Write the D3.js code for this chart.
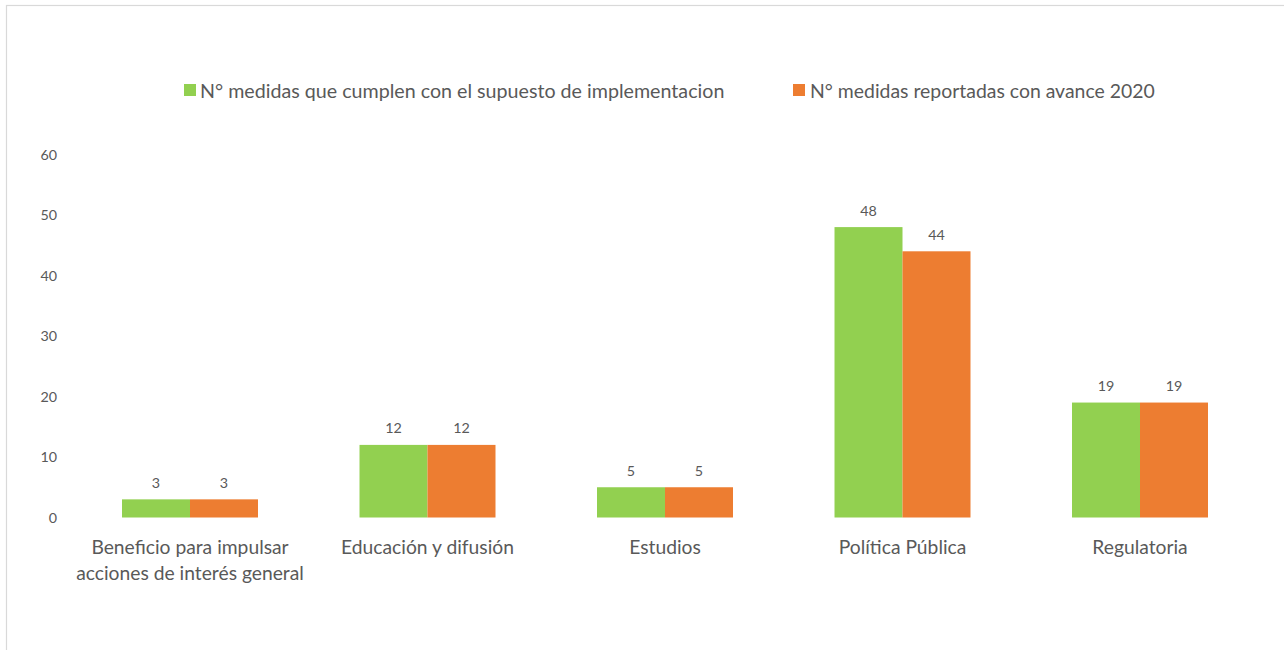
<!DOCTYPE html>
<html>
<head>
<meta charset="utf-8">
<script src="https://cdn.jsdelivr.net/npm/d3@7"></script>
<style>
  html, body { margin: 0; padding: 0; background: #ffffff; }
  svg { display: block; }
  text { font-family: Lato, "Open Sans", sans-serif; fill: #595959; }
</style>
</head>
<body>
<svg id="chart" width="1284" height="650"></svg>
<script>
// ---- data ----
const categories = [
  "Beneficio para impulsar|acciones de interés general",
  "Educación y difusión",
  "Estudios",
  "Política Pública",
  "Regulatoria"
];
const seriesNames = [
  "N° medidas que cumplen con el supuesto de implementacion",
  "N° medidas reportadas con avance 2020"
];
const cumplen = [3, 12, 5, 48, 19];
const reportadas = [3, 12, 5, 44, 19];
const yTicks = [0, 10, 20, 30, 40, 50, 60];
const colors = ["#92d050", "#ed7d31"];

const svg = d3.select("#chart");

// outer frame
svg.append("rect")
  .attr("x", 6.5).attr("y", 5.5)
  .attr("width", 1300).attr("height", 700)
  .attr("fill", "#ffffff").attr("stroke", "#d9d9d9").attr("stroke-width", 1.2);

// helper to fit font size to a target width
function fitFont(sel, target, base) {
  sel.style("font-size", base + "px");
  const w = sel.node().getComputedTextLength();
  const fs = base * target / w;
  sel.style("font-size", fs + "px");
  return fs;
}

// scales
const x0 = d3.scaleBand()
  .domain(categories)
  .range([71.25, 1258.75])
  .paddingInner(0.4274)
  .paddingOuter(0.2137);
const keys = [0, 1];
const x1 = d3.scaleBand().domain(keys).range([0, x0.bandwidth()]).padding(0);
const y = d3.scaleLinear().domain([0, 60]).range([517.5, 154.5]);

const seriesValues = [cumplen, reportadas];

// font sizes from measurement
const probe = svg.append("text").text("60");
const tickFs = fitFont(probe, 16.6, 16);
probe.remove();
const probe2 = svg.append("text").text("Educación y difusión");
const catFs = fitFont(probe2, 173, 18);
probe2.remove();

// y axis labels
const yAxis = d3.axisLeft(y).tickValues(yTicks).tickSize(0).tickPadding(0);
const gy = svg.append("g").attr("transform", "translate(57,0)").call(yAxis);
gy.select(".domain").remove();
gy.selectAll("text")
  .style("font-size", tickFs + "px")
  .style("font-family", "Lato, 'Open Sans', sans-serif")
  .attr("fill", "#595959");

// bars
const groups = svg.append("g").selectAll("g")
  .data(categories)
  .join("g")
  .attr("transform", d => `translate(${x0(d)},0)`);

groups.selectAll("rect")
  .data((d, i) => keys.map(k => ({ k, v: seriesValues[k][i] })))
  .join("rect")
  .attr("x", d => x1(d.k))
  .attr("width", x1.bandwidth())
  .attr("y", d => y(d.v))
  .attr("height", d => y(0) - y(d.v))
  .attr("fill", d => colors[d.k]);

groups.selectAll("text.val")
  .data((d, i) => keys.map(k => ({ k, v: seriesValues[k][i] })))
  .join("text")
  .attr("class", "val")
  .attr("x", d => x1(d.k) + x1.bandwidth() / 2)
  .attr("y", d => y(d.v) - 17)
  .attr("text-anchor", "middle")
  .attr("dominant-baseline", "central")
  .style("font-size", tickFs + "px")
  .text(d => d.v);

// category labels
const xAxis = d3.axisBottom(x0).tickSize(0).tickPadding(0).tickFormat("");
const gx = svg.append("g").attr("transform", `translate(0,${y(0)})`).call(xAxis);
gx.select(".domain").remove();
categories.forEach(c => {
  const lines = c.split("|");
  const t = svg.append("text")
    .attr("x", x0(c) + x0.bandwidth() / 2)
    .attr("y", 546)
    .attr("text-anchor", "middle")
    .attr("dominant-baseline", "central")
    .style("font-size", catFs + "px");
  lines.forEach((ln, i) => {
    t.append("tspan")
      .attr("x", x0(c) + x0.bandwidth() / 2)
      .attr("dy", i === 0 ? 0 : 26)
      .text(ln);
  });
});

// legend
const legendItems = [
  { name: seriesNames[0], mx: 184, tx: 200, tw: 525 },
  { name: seriesNames[1], mx: 793, tx: 810, tw: 345 }
];
legendItems.forEach((it, i) => {
  svg.append("rect")
    .attr("x", it.mx).attr("y", 84)
    .attr("width", 12).attr("height", 12)
    .attr("fill", colors[i]);
  const t = svg.append("text")
    .attr("x", it.tx).attr("y", 90)
    .attr("dominant-baseline", "central")
    .text(it.name);
  fitFont(t, it.tw, 18);
});
</script>
</body>
</html>
